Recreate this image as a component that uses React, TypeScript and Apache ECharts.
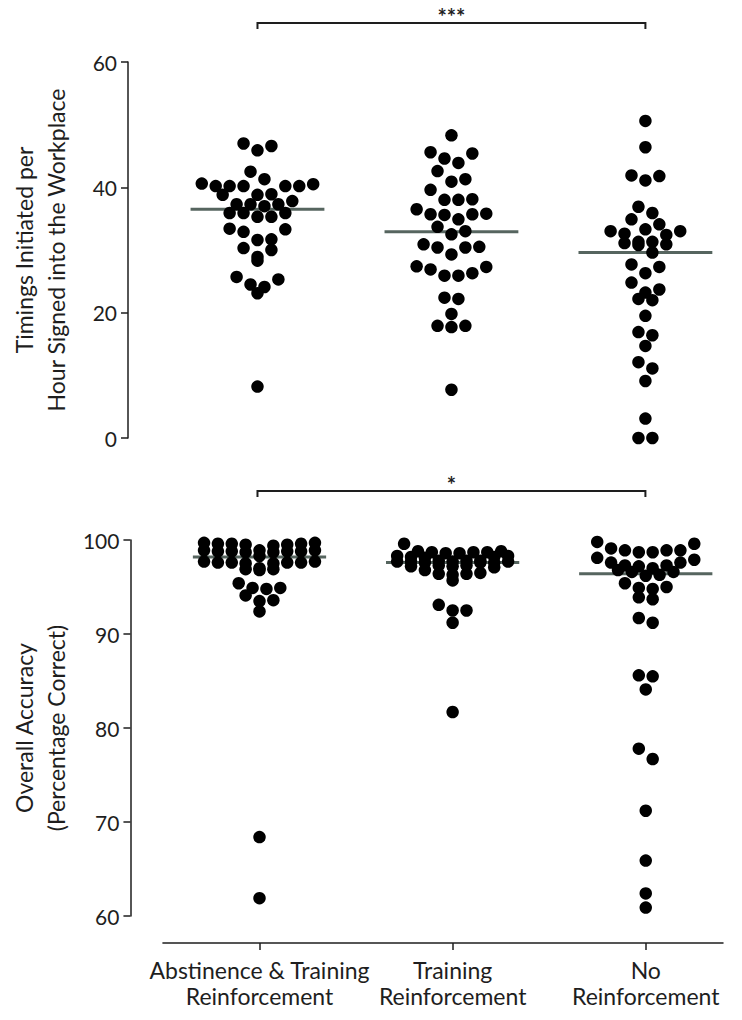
import React, { useEffect, useRef } from "react";
import * as echarts from "echarts";

// ---------- data ----------
const categories = [
  "Abstinence & Training\nReinforcement",
  "Training\nReinforcement",
  "No\nReinforcement",
];

const timingsAbstinenceTraining = [
  47.0, 46.6, 45.9, 42.5, 41.3, 40.6, 40.5, 40.2, 40.2, 40.2, 40.2, 40.2, 38.9, 38.8,
  38.8, 37.8, 37.3, 37.3, 37.3, 37.0, 35.9, 35.9, 35.9, 35.3, 35.3, 33.4, 33.3, 32.9,
  31.7, 31.6, 30.3, 30.0, 28.9, 28.3, 25.7, 25.3, 24.5, 24.1, 23.1, 8.2,
];
const timingsTraining = [
  48.3, 45.6, 45.4, 44.6, 43.9, 42.6, 41.3, 40.9, 39.6, 38.1, 38.0, 38.0, 36.5, 35.8,
  35.7, 35.7, 35.6, 34.9, 33.7, 33.0, 32.5, 30.9, 30.5, 30.4, 30.4, 29.3, 27.4, 27.3,
  26.9, 26.3, 25.9, 25.9, 22.4, 22.2, 19.8, 17.9, 17.9, 17.7, 7.7,
];
const timingsNone = [
  50.6, 46.4, 41.9, 41.8, 41.1, 36.9, 35.9, 34.9, 34.1, 33.3, 33.0, 33.0, 32.6, 32.4,
  31.3, 31.3, 31.1, 30.9, 30.8, 29.6, 27.7, 27.3, 26.3, 24.8, 23.7, 23.2, 22.2, 22.0,
  19.5, 16.9, 16.4, 14.7, 12.1, 11.1, 9.1, 3.1, 0, 0,
];
const timingsMedians = [36.5, 32.9, 29.6];

const accuracyAbstinenceTraining = [
  99.7, 99.5, 99.6, 99.4, 99.6, 99.5, 99.7, 99.6,
  98.9, 98.8, 98.7, 98.8, 98.9, 98.7, 98.8, 98.9, 98.8,
  98.3,
  97.7, 97.6, 97.5, 97.6, 97.7, 97.5, 97.6, 97.6,
  96.9, 96.8, 96.9, 97.0,
  95.4, 94.9, 94.9, 94.8, 94.1, 93.6, 93.5, 92.4, 68.4, 61.9,
];
const accuracyTraining = [
  99.6,
  98.8, 98.7, 98.6, 98.8, 98.7, 98.6, 98.7,
  98.2, 98.3, 98.1, 98.2, 98.3,
  97.7, 97.8, 97.6, 97.7, 97.8, 97.6, 97.7, 97.7, 97.8, 97.6,
  97.2, 97.3, 97.1, 97.2, 97.3,
  96.8, 96.4, 96.3, 96.5, 96.4, 95.7,
  93.1, 92.5, 92.5, 91.2, 81.7,
];
const accuracyNone = [
  99.8, 99.1, 98.9, 98.7, 98.7, 98.9, 98.9, 99.6,
  97.9, 97.6, 97.3, 97.0, 97.3, 97.2, 97.6, 98.1, 96.6, 96.2, 96.6, 96.3, 96.8,
  95.0, 94.8, 95.4, 94.9, 93.7, 93.9,
  91.7, 91.2,
  85.6, 85.5, 84.1,
  76.7, 77.8,
  71.2, 65.9, 62.4, 60.9,
];
const accuracyMedians = [98.2, 97.6, 96.4];

const timingsAxis = { min: 0, max: 60, interval: 20 };
const accuracyAxis = { min: 60, max: 100, interval: 10 };
const topSignificance = "***";
const bottomSignificance = "*";

const timingsTitle = "Timings Initiated per\nHour Signed into the Workplace";
const accuracyTitle = "Overall Accuracy\n(Percentage Correct)";

// ---------- layout ----------
const FONT = "Lato, 'Liberation Sans', sans-serif";
const INK = "#1e1e1e";
const GRID_LEFT = 157.5;
const GRID_W = 565.5;
const GRID_H = 376;
const TOP1 = 62;
const TOP2 = 540;
const X_MIN = -0.5;
const X_MAX = 2.4;
const DOT = 12.5;
const STEP = 14;
const MAX_ROW = 9;

function slotOrder(n: number): number[] {
  const slots: number[] = [];
  for (let i = 0; i < n; i++) slots.push(i - (n - 1) / 2);
  return slots.sort((a, b) => Math.abs(a) - Math.abs(b) || b - a);
}

function swarm(values: number[], group: number, yRange: number): number[][] {
  const pxPerY = GRID_H / yRange;
  const pxPerX = GRID_W / (X_MAX - X_MIN);
  const sorted = [...values].sort((a, b) => b - a);
  const rows: number[][] = [];
  for (const v of sorted) {
    const row = rows[rows.length - 1];
    if (row && row.length < MAX_ROW && (row[0] - v) * pxPerY < 13 * 0.9) row.push(v);
    else rows.push([v]);
  }
  const pts: number[][] = [];
  rows.forEach((row) => {
    const asc = [...row].sort((a, b) => a - b);
    const slots = slotOrder(row.length);
    asc.forEach((v, i) => {
      pts.push([group + (slots[i] * STEP) / pxPerX, v]);
    });
  });
  return pts;
}

function medianSeries(medians: number[], axisIndex: number) {
  return {
    type: "custom",
    xAxisIndex: axisIndex,
    yAxisIndex: axisIndex,
    z: 2,
    data: medians.map((m, i) => [i, m]),
    renderItem: (_p: any, api: any) => {
      const x = api.value(0);
      const y = api.value(1);
      const a = api.coord([x - 0.345, y]);
      const b = api.coord([x + 0.345, y]);
      return {
        type: "line",
        shape: { x1: a[0], y1: a[1], x2: b[0], y2: b[1] },
        style: { stroke: "#56655f", lineWidth: 3 },
      };
    },
  };
}

function yAxisDef(gridIndex: number, ax: any, name: string) {
  return {
    type: "value",
    gridIndex,
    min: ax.min,
    max: ax.max,
    interval: ax.interval,
    offset: 32.5,
    name,
    nameLocation: "middle",
    nameGap: 56,
    nameTextStyle: { fontSize: 23, lineHeight: 32, color: INK, fontFamily: FONT },
    axisLine: { show: true, onZero: false, lineStyle: { color: INK, width: 1.5 } },
    axisTick: { show: true, length: 7, lineStyle: { color: INK, width: 1.5 } },
    axisLabel: { fontSize: 21, color: INK, fontFamily: FONT, margin: 11 },
    splitLine: { show: false },
  };
}

export default function App() {
  const ref = useRef<HTMLDivElement>(null);
  useEffect(() => {
    if (!ref.current) return;
    const chart = echarts.init(ref.current, undefined, { renderer: "svg" });
    const topGroups = [timingsAbstinenceTraining, timingsTraining, timingsNone];
    const botGroups = [accuracyAbstinenceTraining, accuracyTraining, accuracyNone];
    const topPts = topGroups.flatMap((g, i) => swarm(g, i, timingsAxis.max - timingsAxis.min));
    const botPts = botGroups.flatMap((g, i) => swarm(g, i, accuracyAxis.max - accuracyAxis.min));

    const option: any = {
      animation: false,
      backgroundColor: "#ffffff",
      textStyle: { fontFamily: FONT },
      grid: [
        { left: GRID_LEFT, top: TOP1, width: GRID_W, height: GRID_H },
        { left: GRID_LEFT, top: TOP2, width: GRID_W, height: GRID_H },
      ],
      xAxis: [
        { type: "value", gridIndex: 0, min: X_MIN, max: X_MAX, show: false },
        {
          type: "value",
          gridIndex: 1,
          min: X_MIN,
          max: X_MAX,
          offset: 27,
          axisLine: { show: true, onZero: false, lineStyle: { color: INK, width: 1.5 } },
          axisTick: { show: true, length: 7, customValues: [0, 1, 2], lineStyle: { color: INK, width: 1.5 } },
          axisLabel: {
            customValues: [0, 1, 2],
            formatter: (v: number) => categories[Math.round(v)] ?? "",
            fontSize: 23,
            lineHeight: 26,
            color: INK,
            fontFamily: FONT,
            margin: 14,
          },
          splitLine: { show: false },
        },
      ],
      yAxis: [yAxisDef(0, timingsAxis, timingsTitle), yAxisDef(1, accuracyAxis, accuracyTitle)],
      series: [
        medianSeries(timingsMedians, 0),
        medianSeries(accuracyMedians, 1),
        {
          type: "scatter",
          xAxisIndex: 0,
          yAxisIndex: 0,
          z: 3,
          symbol: "circle",
          symbolSize: DOT,
          itemStyle: { color: "#000000", opacity: 1 },
          data: topPts,
        },
        {
          type: "scatter",
          xAxisIndex: 1,
          yAxisIndex: 1,
          z: 3,
          symbol: "circle",
          symbolSize: DOT,
          itemStyle: { color: "#000000", opacity: 1 },
          data: botPts,
        },
      ],
    };
    chart.setOption(option);

    const xa = chart.convertToPixel({ xAxisIndex: 0 }, 0) as unknown as number;
    const xc = chart.convertToPixel({ xAxisIndex: 0 }, 2) as unknown as number;
    const bracket = (y: number, label: string) => [
      {
        type: "polyline",
        shape: { points: [[xa, y + 6], [xa, y], [xc, y], [xc, y + 6]] },
        style: { stroke: INK, lineWidth: 2, fill: null },
      },
      {
        type: "text",
        x: (xa + xc) / 2,
        y: y - 7,
        style: {
          text: label,
          fontSize: 22,
          fontWeight: "bold",
          fill: INK,
          align: "center",
          verticalAlign: "middle",
          fontFamily: FONT,
        },
      },
    ];
    chart.setOption({
      graphic: [...bracket(TOP1 - 39, topSignificance), ...bracket(TOP2 - 49, bottomSignificance)],
    });
    return () => chart.dispose();
  }, []);
  return (
    <div
      ref={ref}
      style={{ position: "absolute", left: 0, top: 0, width: 742, height: 1020, background: "#fff" }}
    />
  );
}
